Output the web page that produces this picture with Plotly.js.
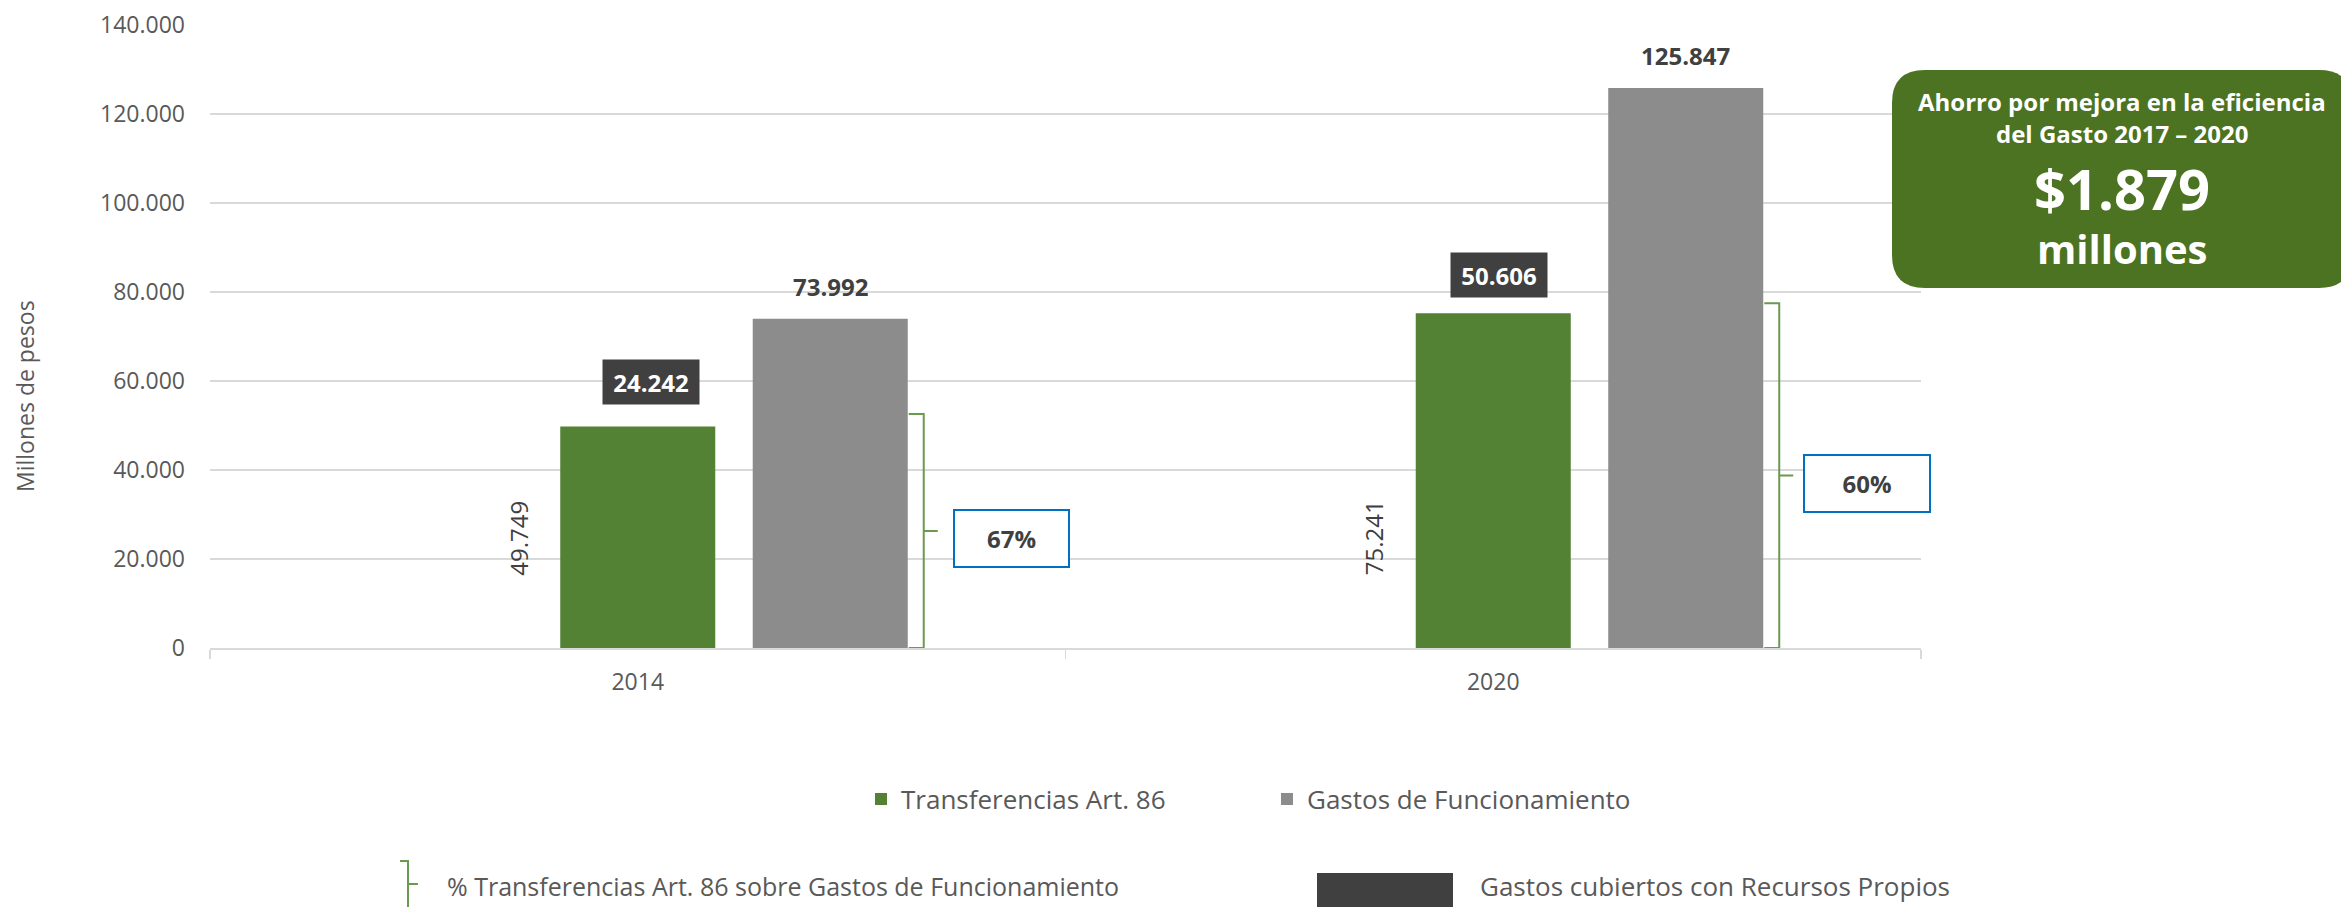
<!DOCTYPE html>
<html><head><meta charset="utf-8">
<script src="https://cdn.plot.ly/plotly-3.0.1.min.js"></script>
<style>html,body{margin:0;padding:0;background:#fff}#chart{width:2341px;height:907px}</style>
</head><body><div id="chart"></div>
<script>
// ---- data ----
const categories = ['2014', '2020'];
const transferencias = [49749, 75241];
const gastosFuncionamiento = [73992, 125847];
const gastosRecursosPropios = [24242, 50606];
const porcentajes = ['67%', '60%'];
const bracketTop = [52600, 77500];
const seriesNames = ['Transferencias Art. 86', 'Gastos de Funcionamiento'];
const extraLegend = ['% Transferencias Art. 86 sobre Gastos de Funcionamiento', 'Gastos cubiertos con Recursos Propios'];
const yTitle = 'Millones de pesos';
const ahorroLines = ['Ahorro por mejora en la eficiencia', 'del Gasto 2017 \u2013 2020', '$1.879', 'millones'];

// ---- layout helpers ----
const W = 2341, H = 907, L = 210, R = 1921, T = 25, B = 648;
const px2x = p => (p - L) / (R - L);
const py2y = p => (B - p) / (B - T);
const fmt = n => String(n).replace(/\B(?=(\d{3})+(?!\d))/g, '.');
const FONT = 'Open Sans, sans-serif';
const GREEN = '#548235', GRAY = '#8C8C8C', DARK = '#404040', TXT = '#595959';

const barW = 0.1812, greenOff = -0.0906, grayOff = 0.1344;

const traces = [
  { type: 'bar', name: seriesNames[0], x: categories, y: transferencias,
    offset: greenOff, width: barW, marker: { color: GREEN }, hoverinfo: 'skip' },
  { type: 'bar', name: seriesNames[1], x: categories, y: gastosFuncionamiento,
    offset: grayOff, width: barW, marker: { color: GRAY }, hoverinfo: 'skip' }
];

const annotations = [];
const shapes = [];

categories.forEach((c, i) => {
  // gray value labels
  annotations.push({ x: i + grayOff + barW / 2, y: gastosFuncionamiento[i], xref: 'x', yref: 'y',
    text: '<b>' + fmt(gastosFuncionamiento[i]) + '</b>', showarrow: false, xanchor: 'center', yanchor: 'bottom', yshift: 14,
    font: { family: FONT, size: 24, color: DARK } });
  // dark boxes
  const dxs = [13, 6], dys = [45, 38];
  annotations.push({ x: i, y: transferencias[i], xref: 'x', yref: 'y', xshift: dxs[i], yshift: dys[i],
    text: '<b>' + fmt(gastosRecursosPropios[i]) + '</b>', showarrow: false, xanchor: 'center', yanchor: 'middle',
    bgcolor: DARK, width: 90, height: 38, borderpad: 3,
    font: { family: FONT, size: 24, color: '#FFFFFF' } });
  // rotated green values
  annotations.push({ x: i, xref: 'x', xshift: -120, y: py2y(538), yref: 'paper',
    text: fmt(transferencias[i]), textangle: -90, showarrow: false, xanchor: 'center', yanchor: 'middle',
    font: { family: FONT, size: 24, color: DARK } });
  // percent boxes
  const pw = [113, 124];
  annotations.push({ x: i + 0.437, y: bracketTop[i] / 2, xref: 'x', yref: 'y', yshift: -8,
    text: '<b>' + porcentajes[i] + '</b>', showarrow: false, width: pw[i], height: 55,
    xanchor: 'center', yanchor: 'middle',
    bordercolor: '#0070C0', borderwidth: 2, borderpad: 0, bgcolor: '#FFFFFF',
    font: { family: FONT, size: 24, color: DARK } });
  // brackets
  const x0 = i + 0.3168, x1 = i + 0.3343, x2 = i + 0.3507, top = bracketTop[i], mid = top / 2;
  shapes.push({ type: 'path', xref: 'x', yref: 'y',
    path: `M${x0},${top} L${x1},${top} L${x1},0 L${x0},0 M${x1},${mid} L${x2},${mid}`,
    line: { color: '#6A9A4F', width: 2 } });
});

// y title
annotations.push({ x: px2x(25), y: py2y(396), xref: 'paper', yref: 'paper', text: yTitle,
  xanchor: 'center', yanchor: 'middle',
  textangle: -90, showarrow: false, font: { family: FONT, size: 23, color: TXT } });

// Ahorro box
(function () {
  const x0 = 1892, x1 = 2352, y0 = 70, y1 = 288, r = 33;
  const X = px2x, Y = py2y;
  const p = `M${X(x0 + r)},${Y(y0)} L${X(x1 - r)},${Y(y0)} Q${X(x1)},${Y(y0)} ${X(x1)},${Y(y0 + r)} ` +
    `L${X(x1)},${Y(y1 - r)} Q${X(x1)},${Y(y1)} ${X(x1 - r)},${Y(y1)} L${X(x0 + r)},${Y(y1)} ` +
    `Q${X(x0)},${Y(y1)} ${X(x0)},${Y(y1 - r)} L${X(x0)},${Y(y0 + r)} Q${X(x0)},${Y(y0)} ${X(x0 + r)},${Y(y0)} Z`;
  shapes.push({ type: 'path', xref: 'paper', yref: 'paper', path: p, fillcolor: '#4B7321',
    line: { width: 0 }, layer: 'above' });
  const cx = px2x(2122);
  const ys = [102, 133, 188, 248], sizes = [24, 24, 56, 40];
  ahorroLines.forEach((t, k) => annotations.push({ x: cx, y: py2y(ys[k]), xref: 'paper', yref: 'paper',
    xanchor: 'center', yanchor: 'middle',
    text: '<b>' + t + '</b>', showarrow: false, font: { family: FONT, size: sizes[k], color: '#FFFFFF' } }));
})();

// second legend row (drawn)
shapes.push({ type: 'path', xref: 'paper', yref: 'paper',
  path: `M${px2x(400)},${py2y(861)} L${px2x(408)},${py2y(861)} L${px2x(408)},${py2y(912)} M${px2x(408)},${py2y(884)} L${px2x(418)},${py2y(884)}`,
  line: { color: '#6A9A4F', width: 2 } });
shapes.push({ type: 'rect', xref: 'paper', yref: 'paper', x0: px2x(1317), x1: px2x(1453), y0: py2y(873), y1: py2y(915),
  fillcolor: DARK, line: { width: 0 } });
annotations.push({ x: px2x(445), y: py2y(886), xref: 'paper', yref: 'paper', xanchor: 'left', yanchor: 'middle',
  text: extraLegend[0], showarrow: false, font: { family: FONT, size: 25, color: TXT } });
annotations.push({ x: px2x(1478), y: py2y(886), xref: 'paper', yref: 'paper', xanchor: 'left', yanchor: 'middle',
  text: extraLegend[1], showarrow: false, font: { family: FONT, size: 26, color: TXT } });

const layout = {
  width: W, height: H,
  margin: { l: L, r: W - R, t: T, b: H - B, pad: 0 },
  paper_bgcolor: '#FFFFFF', plot_bgcolor: '#FFFFFF',
  separators: ',.',
  barmode: 'overlay',
  font: { family: FONT, color: TXT },
  xaxis: { type: 'category', range: [-0.5, 1.5], autorange: false, showgrid: false, showline: true,
    linecolor: '#D9D9D9', linewidth: 2,
    ticks: 'outside', tickson: 'boundaries', ticklen: 9, tickcolor: '#D9D9D9', tickwidth: 1.5,
    tickfont: { family: FONT, size: 23, color: TXT }, ticklabelstandoff: 12, fixedrange: true },
  yaxis: { range: [0, 140000], autorange: false, dtick: 20000, tick0: 0, tickformat: ',d', showgrid: true,
    gridcolor: '#D9D9D9', gridwidth: 1.5, zeroline: false, showline: false, ticks: '', ticklabelstandoff: 24,
    tickfont: { family: FONT, size: 23, color: TXT }, fixedrange: true },
  showlegend: true,
  legend: { orientation: 'h', x: px2x(861), xanchor: 'left', y: py2y(799), yanchor: 'middle',
    entrywidth: 361, entrywidthmode: 'pixels', font: { family: FONT, size: 26, color: TXT },
    bgcolor: 'rgba(0,0,0,0)', borderwidth: 0, traceorder: 'normal' },
  hovermode: false,
  annotations: annotations,
  shapes: shapes
};

Plotly.newPlot('chart', traces, layout, { displayModeBar: false, staticPlot: true });
</script></body></html>
